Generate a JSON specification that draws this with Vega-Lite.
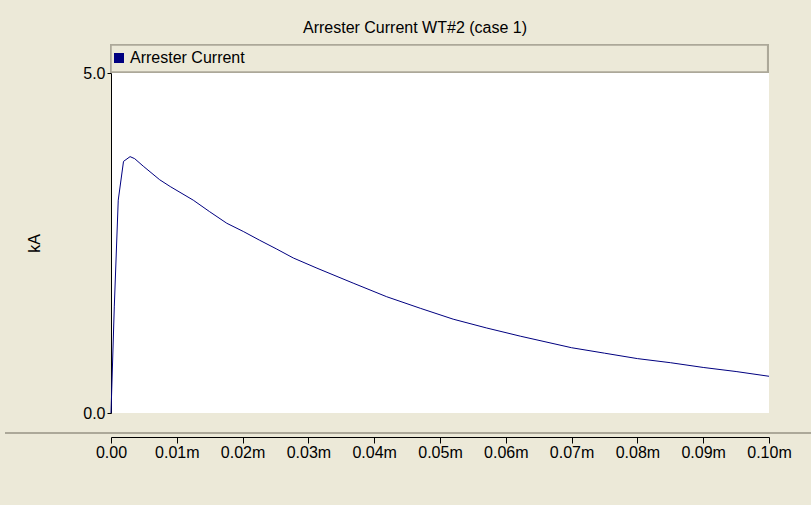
{
  "$schema": "https://vega.github.io/schema/vega-lite/v6.json",
  "width": 658,
  "height": 340,
  "autosize": {"type": "none"},
  "padding": {"left": 111, "top": 73, "right": 42, "bottom": 92},
  "background": "#ECE9D8",
  "title": {
    "text": "Arrester Current WT#2 (case 1)",
    "font": "Liberation Sans",
    "fontSize": 16,
    "fontWeight": "normal",
    "color": "#000000",
    "anchor": "middle",
    "dx": -25,
    "offset": 8
  },
  "config": {
    "view": {"fill": "#FFFFFF", "stroke": null},
    "font": "Liberation Sans"
  },
  "data": {
    "values": [
      {"t": 0.0, "kA": 0.0, "series": "Arrester Current"},
      {"t": 0.0005, "kA": 1.56, "series": "Arrester Current"},
      {"t": 0.0011, "kA": 3.13, "series": "Arrester Current"},
      {"t": 0.0019, "kA": 3.70, "series": "Arrester Current"},
      {"t": 0.0029, "kA": 3.77, "series": "Arrester Current"},
      {"t": 0.0036, "kA": 3.74, "series": "Arrester Current"},
      {"t": 0.0049, "kA": 3.63, "series": "Arrester Current"},
      {"t": 0.0074, "kA": 3.43, "series": "Arrester Current"},
      {"t": 0.0090, "kA": 3.33, "series": "Arrester Current"},
      {"t": 0.0125, "kA": 3.13, "series": "Arrester Current"},
      {"t": 0.0150, "kA": 2.96, "series": "Arrester Current"},
      {"t": 0.0176, "kA": 2.79, "series": "Arrester Current"},
      {"t": 0.0201, "kA": 2.67, "series": "Arrester Current"},
      {"t": 0.0226, "kA": 2.54, "series": "Arrester Current"},
      {"t": 0.0252, "kA": 2.41, "series": "Arrester Current"},
      {"t": 0.0277, "kA": 2.28, "series": "Arrester Current"},
      {"t": 0.0313, "kA": 2.13, "series": "Arrester Current"},
      {"t": 0.0368, "kA": 1.91, "series": "Arrester Current"},
      {"t": 0.0419, "kA": 1.71, "series": "Arrester Current"},
      {"t": 0.0470, "kA": 1.54, "series": "Arrester Current"},
      {"t": 0.0520, "kA": 1.38, "series": "Arrester Current"},
      {"t": 0.0571, "kA": 1.25, "series": "Arrester Current"},
      {"t": 0.0622, "kA": 1.13, "series": "Arrester Current"},
      {"t": 0.0700, "kA": 0.96, "series": "Arrester Current"},
      {"t": 0.0750, "kA": 0.88, "series": "Arrester Current"},
      {"t": 0.0800, "kA": 0.80, "series": "Arrester Current"},
      {"t": 0.0850, "kA": 0.74, "series": "Arrester Current"},
      {"t": 0.0900, "kA": 0.67, "series": "Arrester Current"},
      {"t": 0.0950, "kA": 0.61, "series": "Arrester Current"},
      {"t": 0.1000, "kA": 0.54, "series": "Arrester Current"}
    ]
  },
  "layer": [
    {
      "mark": {"type": "rect", "fill": "#ECE9D8", "stroke": "#ACA899", "strokeWidth": 1.5, "clip": false},
      "encoding": {
        "x": {"datum": 0, "type": "quantitative", "scale": {"domain": [0, 0.1], "nice": false, "zero": false}},
        "x2": {"datum": 0.0998},
        "y": {"datum": 5.41, "type": "quantitative", "scale": {"domain": [0, 5], "nice": false, "zero": false}},
        "y2": {"datum": 5.015}
      }
    },
    {
      "mark": {"type": "rule", "stroke": "#ACA899", "strokeWidth": 2, "clip": false},
      "encoding": {
        "x": {"datum": -0.0161, "type": "quantitative"},
        "x2": {"datum": 0.1064},
        "y": {"datum": -0.294, "type": "quantitative"}
      }
    },
    {
      "mark": {"type": "line", "strokeWidth": 1, "clip": false},
      "encoding": {
        "x": {
          "field": "t",
          "type": "quantitative",
          "scale": {"domain": [0, 0.1], "nice": false, "zero": false},
          "axis": {
            "title": null,
            "offset": 24,
            "values": [0, 0.01, 0.02, 0.03, 0.04, 0.05, 0.06, 0.07, 0.08, 0.09, 0.1],
            "labelExpr": "datum.value == 0 ? '0.00' : format(datum.value, '.2f') + 'm'",
            "grid": false,
            "domainColor": "#000000",
            "tickColor": "#000000",
            "tickSize": 6,
            "labelColor": "#000000",
            "labelFontSize": 16,
            "labelPadding": 1,
            "labelFlush": false,
            "labelOverlap": false
          }
        },
        "y": {
          "field": "kA",
          "type": "quantitative",
          "scale": {"domain": [0, 5], "nice": false, "zero": false},
          "axis": {
            "title": "kA",
            "values": [0, 5],
            "format": ".1f",
            "grid": false,
            "domainColor": "#000000",
            "tickColor": "#000000",
            "tickSize": 4,
            "labelColor": "#000000",
            "labelFontSize": 16,
            "labelPadding": 2,
            "titleColor": "#000000",
            "titleFontSize": 16,
            "titleFontWeight": "normal",
            "titlePadding": 40
          }
        },
        "color": {
          "field": "series",
          "type": "nominal",
          "scale": {"range": ["#000080"]},
          "legend": {
            "title": null,
            "orient": "none",
            "legendX": 0,
            "legendY": -23,
            "padding": 0,
            "symbolType": "square",
            "symbolSize": 100,
            "symbolFillColor": "#000080",
            "symbolStrokeWidth": 0,
            "labelFont": "Liberation Sans",
            "labelFontSize": 16,
            "labelColor": "#000000",
            "labelOffset": 3
          }
        }
      }
    }
  ]
}
